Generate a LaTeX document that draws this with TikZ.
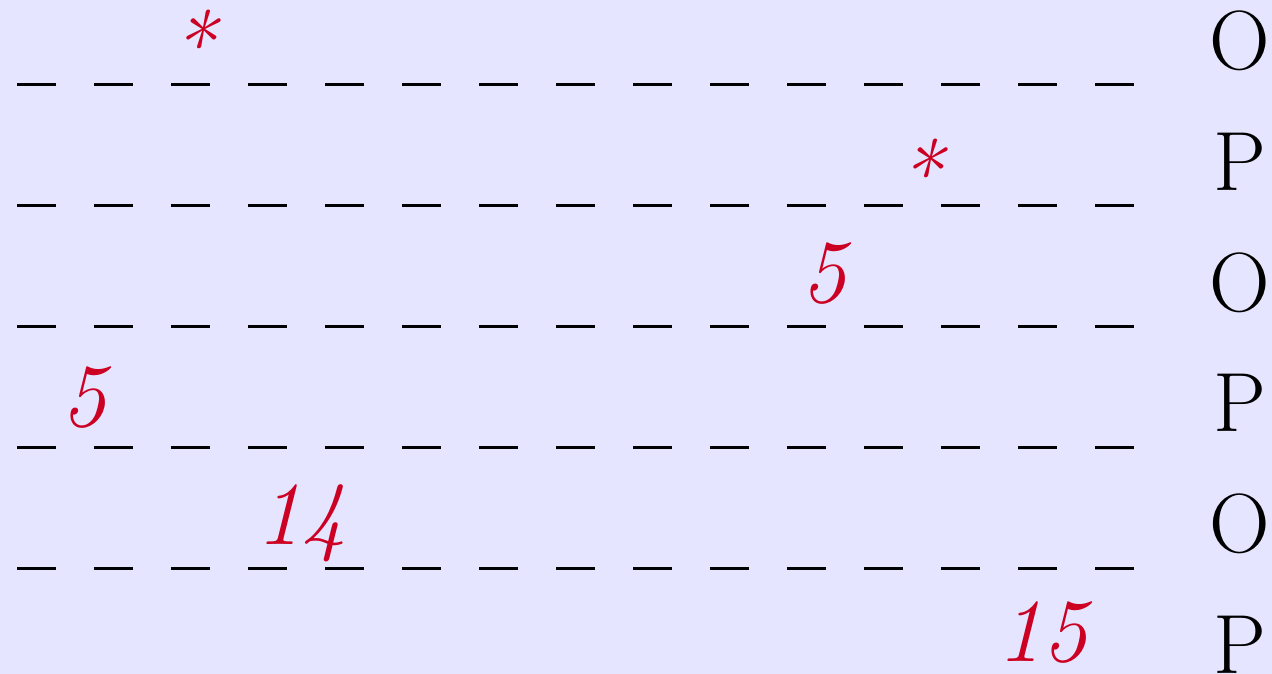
\documentclass[tikz,border=0pt]{standalone}
\usepackage{fontspec}
\definecolor{bgc}{RGB}{229,229,255}
\definecolor{redc}{RGB}{204,0,34}
\tikzset{
  dashbar/.style={line width=3pt, black},
  redlab/.style={inner sep=0pt, outer sep=0pt, text=redc, font=\fontsize{90}{100}\selectfont\itshape, anchor=north},
  rowlab/.style={inner sep=0pt, outer sep=0pt, text=black, font=\fontsize{84}{96}\selectfont, anchor=base}
}
\begin{document}
\begin{tikzpicture}[x=1pt,y=-1pt]
\fill[bgc] (0,0) rectangle (1272,674);
\useasboundingbox (0,0) rectangle (1272,674);
% dash rows
\foreach \r in {0,...,4}{
  \foreach \i in {0,...,14}{
    \draw[dashbar] ({17+77*\i},{85+120.8*\r}) -- ({56+77*\i},{85+120.8*\r});
  }
}
% red labels
\node[redlab] (s1) at (192,10) {*};
\node[redlab] (s2) at (919,139) {*};
\node[redlab] (f1) at (824,243) {5};
\node[redlab] (f2) at (84,367) {5};
\node[redlab] (n14) at (301,485) {14};
\node[redlab] (n15) at (1042,602) {15};
% row letters
\node[rowlab] (l1) at (1240,70) {O};
\node[rowlab] (l2) at (1240,190.6) {P};
\node[rowlab] (l3) at (1240,311.2) {O};
\node[rowlab] (l4) at (1240,431.8) {P};
\node[rowlab] (l5) at (1240,552.4) {O};
\node[rowlab] (l6) at (1240,673) {P};
\end{tikzpicture}
\end{document}
